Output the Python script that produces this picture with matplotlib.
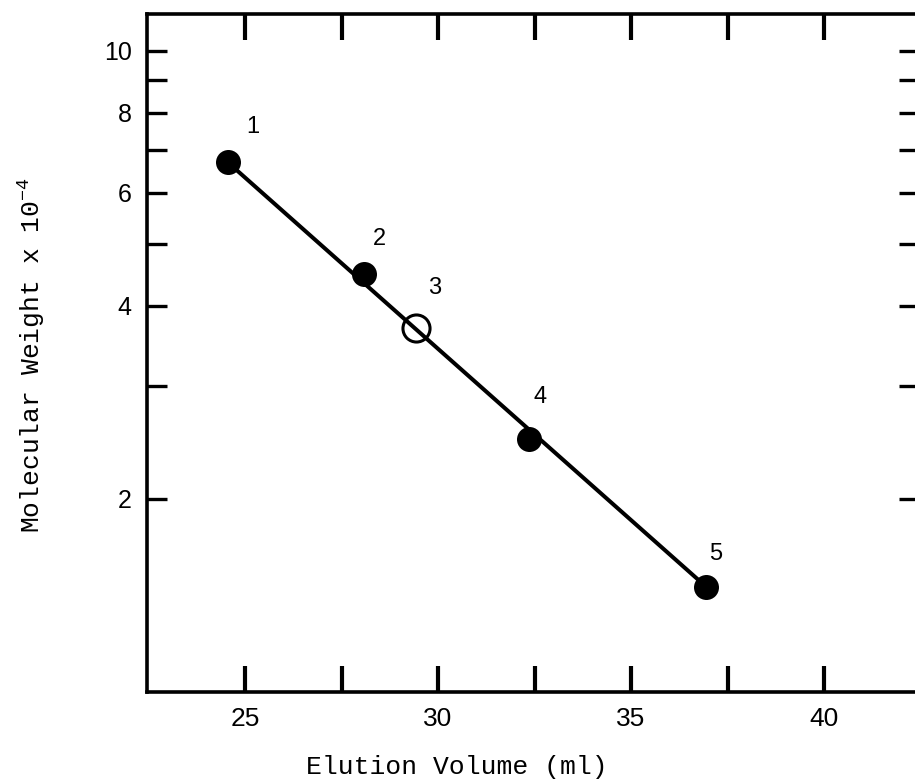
import matplotlib
matplotlib.use("Agg")
import matplotlib.pyplot as plt
from matplotlib.ticker import FixedLocator, FixedFormatter, NullLocator

# ---- data ----
volume = [24.56, 28.08, 29.43, 32.36, 36.94]      # elution volume (ml)
mw = [6.69, 4.49, 3.69, 2.48, 1.46]               # molecular weight x 1e-4
filled = [True, True, False, True, True]
point_labels = ["1", "2", "3", "4", "5"]
label_offsets_px = [(25, 35), (16, 35), (19, 40), (11, 42), (10, 33)]

fit_x = [24.56, 36.94]
fit_y = [6.69, 1.46]

x_ticks = [25, 27.5, 30, 32.5, 35, 37.5, 40]
x_ticklabels = ["25", "", "30", "", "35", "", "40"]
y_ticks = [2, 3, 4, 5, 6, 7, 8, 9, 10]
y_ticklabels = ["2", "", "4", "", "6", "", "8", "", "10"]

plt.rcParams['mathtext.fontset'] = 'custom'
plt.rcParams['mathtext.rm'] = 'Liberation Mono'
plt.rcParams['mathtext.it'] = 'Liberation Mono'

W, H = 915, 780
fig = plt.figure(figsize=(W / 100, H / 100), dpi=100)
left, right, top, bottom = 147, 919, 14, 692
ax = fig.add_axes([left / W, (H - bottom) / H, (right - left) / W, (bottom - top) / H])

ax.set_yscale("log")
ax.set_xlim(22.46, 42.46)
ax.set_ylim(1.0, 11.4)

ax.plot(fit_x, fit_y, color="black", lw=2.9, zorder=2, solid_capstyle="butt")
for x, y, f in zip(volume, mw, filled):
    if f:
        ax.plot([x], [y], marker="o", ms=18, mfc="black", mec="black", mew=0, ls="none", zorder=3)
    else:
        ax.plot([x], [y], marker="o", ms=19.5, mfc="none", mec="black", mew=2.2, ls="none", zorder=3)

for x, y, lab, (dx, dy) in zip(volume, mw, point_labels, label_offsets_px):
    ax.annotate(lab, (x, y), xytext=(dx, dy), textcoords="offset pixels",
                ha="center", va="center", fontsize=17, family="Liberation Sans")

ax.xaxis.set_major_locator(FixedLocator(x_ticks))
ax.xaxis.set_major_formatter(FixedFormatter(x_ticklabels))
ax.xaxis.set_minor_locator(NullLocator())
ax.yaxis.set_major_locator(FixedLocator(y_ticks))
ax.yaxis.set_major_formatter(FixedFormatter(y_ticklabels))
ax.yaxis.set_minor_locator(NullLocator())

ax.tick_params(axis="x", which="major", direction="in", length=19, width=3,
               top=True, bottom=True, labeltop=False, pad=11, labelsize=19)
ax.tick_params(axis="y", which="major", direction="in", length=14.5, width=2.4,
               left=True, right=True, labelright=False, pad=11, labelsize=18)
for lab in ax.get_xticklabels() + ax.get_yticklabels():
    lab.set_family("Liberation Sans")

for s in ax.spines.values():
    s.set_linewidth(2.6)

ax.set_xlabel("Elution Volume (ml)", family="Liberation Mono", fontsize=19)
ax.xaxis.set_label_coords((457 - left) / (right - left), -(755 - bottom) / (bottom - top))
ax.set_ylabel(r"Molecular Weight x 10$^{-4}$", family="Liberation Mono", fontsize=19)
ax.yaxis.set_label_coords((47 - left) / (right - left), (bottom - 355) / (bottom - top))

fig.savefig("out.png", dpi=100)
